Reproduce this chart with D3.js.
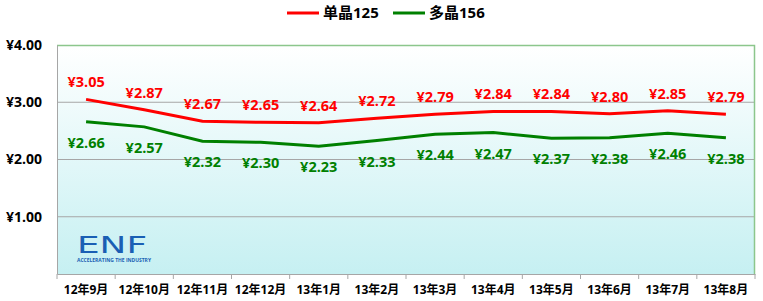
<!DOCTYPE html>
<html>
<head>
<meta charset="utf-8">
<script src="https://cdn.jsdelivr.net/npm/d3@7"></script>
<style>
  body { margin: 0; background: #fff; }
  svg text { font-family: "Open Sans", "Noto Sans CJK SC", sans-serif; font-weight: bold; }
</style>
</head>
<body>
<script>
      var w = 763; // width of SVG space
      var h = 301; // height of SVG space
      var margin = {top: 45, right: 8, bottom: 27, left: 57};

      // data
      var months = ["12年9月", "12年10月", "12年11月", "12年12月", "13年1月", "13年2月", "13年3月", "13年4月", "13年5月", "13年6月", "13年7月", "13年8月"];
      var mono = [3.05, 2.87, 2.67, 2.65, 2.64, 2.72, 2.79, 2.84, 2.84, 2.80, 2.85, 2.79];
      var multi = [2.66, 2.57, 2.32, 2.30, 2.23, 2.33, 2.44, 2.47, 2.37, 2.38, 2.46, 2.38];
      var seriesNames = ["单晶125", "多晶156"];
      var yTicks = [1, 2, 3, 4];

      var svg = d3.select("body").append("svg").attr("width", w).attr("height", h);

      var defs = svg.append("defs");
      var grad = defs.append("linearGradient").attr("id", "bg").attr("x1", 0).attr("y1", 0).attr("x2", 0).attr("y2", 1);
      grad.append("stop").attr("offset", "0%").attr("stop-color", "#ffffff");
      grad.append("stop").attr("offset", "100%").attr("stop-color", "#c6f0f2");

      var xScale = d3.scaleBand().domain(months)
          .range([margin.left, w - margin.right]);
      var yScale = d3.scaleLinear().domain([0, 4])
          .range([h - margin.bottom, margin.top]);

      // plot area background
      svg.append("rect")
          .attr("x", margin.left).attr("y", margin.top)
          .attr("width", w - margin.right - margin.left)
          .attr("height", h - margin.bottom - margin.top)
          .style("fill", "url(#bg)");

      // gridlines
      svg.selectAll(".grid").data(yTicks.slice(0, 3)).enter().append("line")
          .attr("x1", margin.left).attr("x2", w - margin.right)
          .attr("y1", function (d) { return yScale(d); })
          .attr("y2", function (d) { return yScale(d); })
          .style("stroke", "#a6a6a6").style("stroke-width", 1);

      // top / right border (greenish)
      svg.append("path")
          .attr("d", "M" + margin.left + "," + (yScale(4) + 0.5) + "H" + (w - margin.right - 0.5) + "V" + (h - margin.bottom))
          .style("fill", "none").style("stroke", "#8cc68c").style("stroke-width", 1.5);

      // ENF logo
      var logo = svg.append("g").attr("transform", "translate(77,253)");
      logo.append("text").text("ENF")
          .attr("x", 0).attr("y", 0)
          .style("font-family", "'DejaVu Sans', sans-serif")
          .style("font-weight", "normal")
          .style("font-size", "23px")
          .attr("textLength", 70)
          .attr("lengthAdjust", "spacingAndGlyphs")
          .style("fill", "#1a5fb4");
      logo.append("text").text("ACCELERATING THE INDUSTRY")
          .attr("x", 0).attr("y", 9)
          .attr("textLength", 74)
          .attr("lengthAdjust", "spacingAndGlyphs")
          .style("font-size", "4.5px")
          .style("fill", "#1a5fb4");

      // axes
      var yAxis = d3.axisLeft(yScale).tickValues(yTicks).tickSize(0).tickPadding(15)
          .tickFormat(function (d) { return "¥" + d3.format(".2f")(d); });
      var gy = svg.append("g").attr("transform", "translate(" + margin.left + ",0)").call(yAxis);
      gy.select(".domain").style("stroke", "#a6a6a6");
      gy.selectAll("text").style("font-size", "14px").style("fill", "#000");

      var xAxis = d3.axisBottom(xScale).tickSize(0).tickPadding(11);
      var gx = svg.append("g").attr("transform", "translate(0," + (h - margin.bottom) + ")").call(xAxis);
      gx.select(".domain").style("stroke", "#a6a6a6");
      gx.selectAll("text").style("font-size", "12px").style("fill", "#000");
      // tick marks between categories
      gx.selectAll(".sep").data(months).enter().append("line")
          .attr("x1", function (d) { return xScale(d); })
          .attr("x2", function (d) { return xScale(d); })
          .attr("y1", 0).attr("y2", 5)
          .style("stroke", "#a6a6a6");
      gx.append("line").attr("x1", w - margin.right).attr("x2", w - margin.right)
          .attr("y1", 0).attr("y2", 5).style("stroke", "#a6a6a6");

      var cx = function (d, i) { return xScale(months[i]) + xScale.bandwidth() / 2; };
      var line = d3.line().x(cx).y(function (d) { return yScale(d); });

      var series = [
        {name: seriesNames[0], values: mono, color: "#ff0000", dy: -12},
        {name: seriesNames[1], values: multi, color: "#008000", dy: 26}
      ];

      series.forEach(function (s) {
        svg.append("path").datum(s.values)
            .attr("d", line)
            .style("fill", "none")
            .style("stroke", s.color)
            .style("stroke-width", 3);

        svg.selectAll(null).data(s.values).enter().append("text")
            .text(function (d) { return "¥" + d3.format(".2f")(d); })
            .attr("x", cx)
            .attr("y", function (d) { return yScale(d) + s.dy; })
            .attr("text-anchor", "middle")
            .style("font-size", "14.5px")
            .style("fill", s.color);
      });

      // legend
      var legendX = [287, 393];
      var lg = svg.selectAll(".legend").data(series).enter().append("g")
          .attr("transform", function (d, i) { return "translate(" + legendX[i] + ",13)"; });
      lg.append("line").attr("x1", 0).attr("x2", 32).attr("y1", 0).attr("y2", 0)
          .style("stroke", function (d) { return d.color; }).style("stroke-width", 3);
      lg.append("text").text(function (d) { return d.name; })
          .attr("x", 36).attr("y", 5)
          .style("font-size", "15px").style("fill", "#000");
</script>
</body>
</html>
